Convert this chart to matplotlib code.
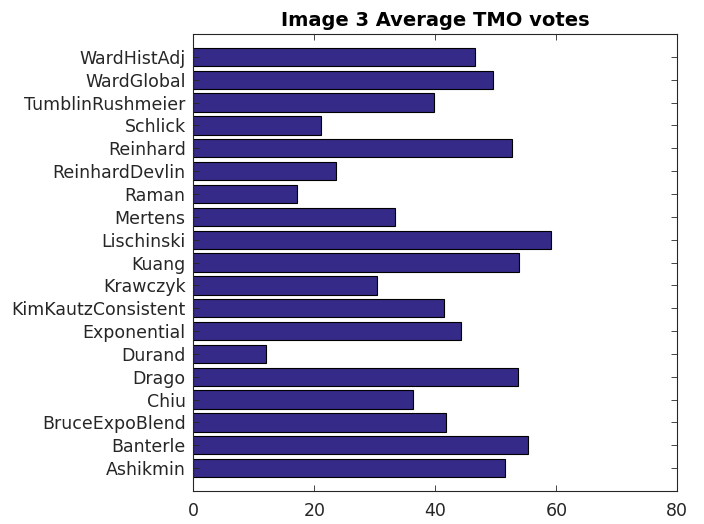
import matplotlib.pyplot as plt
import numpy as np

# TMO names, bottom to top
methods = ['Ashikmin', 'Banterle', 'BruceExpoBlend', 'Chiu', 'Drago', 'Durand',
           'Exponential', 'KimKautzConsistent', 'Krawczyk', 'Kuang', 'Lischinski',
           'Mertens', 'Raman', 'ReinhardDevlin', 'Reinhard', 'Schlick',
           'TumblinRushmeier', 'WardGlobal', 'WardHistAdj']
votes = [51.5, 55.4, 41.8, 36.3, 53.7, 12.0,
         44.2, 41.4, 30.4, 53.9, 59.1,
         33.3, 17.2, 23.6, 52.6, 21.1,
         39.7, 49.6, 46.6]

fg = (0.15, 0.15, 0.15)

fig = plt.figure(figsize=(7.04, 5.24), dpi=100)
ax = fig.add_axes([0.2746, 0.063, 0.6875, 0.872])

pos = np.arange(1, len(methods) + 1)
ax.barh(pos, votes, height=0.8, color=(0.2081, 0.1663, 0.5292),
        edgecolor='black', linewidth=0.8)

ax.set_xlim(0, 80)
ax.set_ylim(0, len(methods) + 1)
ax.set_xticks([0, 20, 40, 60, 80])
ax.set_yticks(pos)
ax.set_yticklabels(methods)

ax.tick_params(direction='in', top=True, right=True, length=4, width=0.6,
               colors=fg, labelsize=12.5, labelcolor=fg)
ax.tick_params(axis='y', pad=5.5)
ax.tick_params(axis='x', pad=8)
for s in ax.spines.values():
    s.set_color(fg)
    s.set_linewidth(0.8)

ax.set_title('Image 3 Average TMO votes', fontsize=14, fontweight='bold', pad=6)

fig.savefig('out.png', dpi=100)
